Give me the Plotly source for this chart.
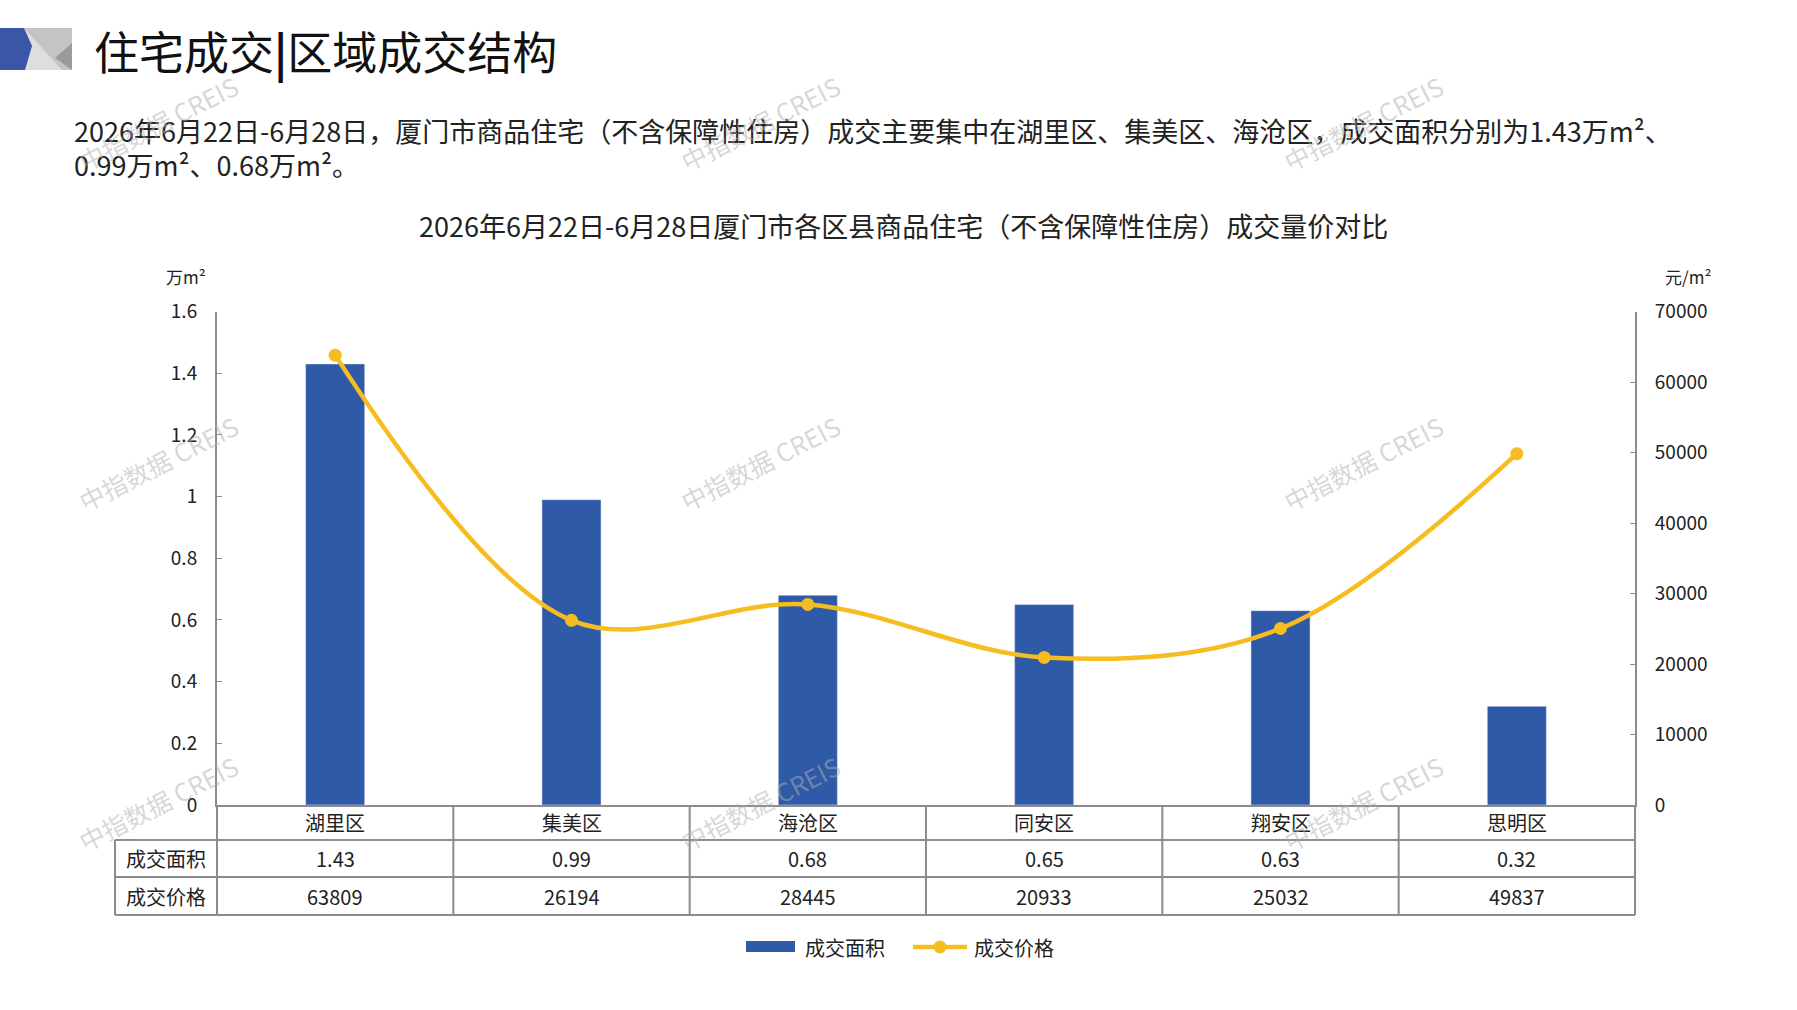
import plotly.graph_objects as go

# 数据
districts = ["湖里区", "集美区", "海沧区", "同安区", "翔安区", "思明区"]
area = [1.43, 0.99, 0.68, 0.65, 0.63, 0.32]          # 成交面积（万m²）
area_text = ["1.43", "0.99", "0.68", "0.65", "0.63", "0.32"]
price = [63809, 26194, 28445, 20933, 25032, 49837]   # 成交价格（元/m²）
left_ticks = [0, 0.2, 0.4, 0.6, 0.8, 1, 1.2, 1.4, 1.6]
right_ticks = [0, 10000, 20000, 30000, 40000, 50000, 60000, 70000]

W, H = 1797, 1010
FONT = "Noto Sans CJK SC"
BLUE = "#2F5AA8"
GOLD = "#F5BD1F"
GRID = "#8C8C8C"
TXT = "#222222"


def px(x):
    return x / W


def py(y):
    return 1 - y / H


x0, x1 = 217, 1635     # 图区左右（像素）
y_top, y_bot = 311.5, 805
idx = list(range(len(districts)))

fig = go.Figure()
fig.add_trace(go.Bar(
    x=idx, y=area, name="成交面积", marker_color=BLUE, width=0.25,
    yaxis="y", showlegend=False,
))
fig.add_trace(go.Scatter(
    x=idx, y=price, name="成交价格", yaxis="y2", mode="lines+markers",
    line=dict(color=GOLD, width=4.5, shape="spline", smoothing=1),
    marker=dict(color=GOLD, size=13), showlegend=False,
))

shapes = []
ann = []


def text(x, y, s, size, color=TXT, xanchor="center", **kw):
    ann.append(dict(x=x, y=y, xref=kw.pop("xref", "paper"), yref="paper", text=s,
                    showarrow=False, xanchor=xanchor, yanchor="middle",
                    font=dict(size=size, color=color), **kw))


# 左上角图标
shapes.append(dict(type="rect", xref="paper", yref="paper", x0=px(0), x1=px(72),
                   y0=py(70), y1=py(28), fillcolor="#C4C4C4", line_width=0, layer="above"))
shapes.append(dict(type="path", xref="paper", yref="paper", layer="above", line_width=0,
                   fillcolor="#DEDEDE",
                   path=f"M{px(24)},{py(28)} L{px(62)},{py(70)} L{px(20)},{py(70)} Z"))
shapes.append(dict(type="path", xref="paper", yref="paper", layer="above", line_width=0,
                   fillcolor="#9A9A9A",
                   path=f"M{px(72)},{py(43)} L{px(72)},{py(70)} L{px(55)},{py(58)} Z"))
shapes.append(dict(type="path", xref="paper", yref="paper", layer="above", line_width=0,
                   fillcolor="#3A56A6",
                   path=f"M{px(0)},{py(28)} L{px(24)},{py(28)} L{px(32)},{py(46)} "
                        f"L{px(25)},{py(70)} L{px(0)},{py(70)} Z"))

# 表格线
col_w = (x1 - x0) / len(districts)
for y in [840, 877, 915]:
    shapes.append(dict(type="line", xref="paper", yref="paper", x0=px(115), x1=px(x1),
                       y0=py(y), y1=py(y), line=dict(color=GRID, width=2)))
shapes.append(dict(type="line", xref="paper", yref="paper", x0=px(115), x1=px(115),
                   y0=py(840), y1=py(915), line=dict(color=GRID, width=2)))
for k in range(len(districts) + 1):
    xx = x0 + k * col_w
    shapes.append(dict(type="line", xref="paper", yref="paper", x0=px(xx), x1=px(xx),
                       y0=py(805), y1=py(915), line=dict(color=GRID, width=2)))

# 表格文字
for i, d in enumerate(districts):
    text(i, py(822), d, 20, xref="x")
    text(i, py(858.5), area_text[i], 20, xref="x")
    text(i, py(896), str(price[i]), 20, xref="x")
text(px(166), py(858.5), "成交面积", 20)
text(px(166), py(896), "成交价格", 20)

# 图例（手绘）
shapes.append(dict(type="rect", xref="paper", yref="paper", x0=px(746), x1=px(795),
                   y0=py(952), y1=py(941), fillcolor=BLUE, line_width=0))
text(px(803), py(947), "成交面积", 20, xanchor="left")
shapes.append(dict(type="line", xref="paper", yref="paper", x0=px(913), x1=px(967),
                   y0=py(947), y1=py(947), line=dict(color=GOLD, width=4.5)))
shapes.append(dict(type="circle", xref="paper", yref="paper", x0=px(933.5), x1=px(946.5),
                   y0=py(953.5), y1=py(940.5), fillcolor=GOLD, line_width=0))
text(px(972), py(947), "成交价格", 20, xanchor="left")

# 标题与说明文字
text(px(92), py(50), "住宅成交<b>|</b>区域成交结构", 45, color="#111", xanchor="left")
text(px(72), py(130),
     "2026年6月22日-6月28日，厦门市商品住宅（不含保障性住房）成交主要集中在湖里区、集美区、海沧区，成交面积分别为1.43万m²、",
     27, xanchor="left")
text(px(72), py(164), "0.99万m²、0.68万m²。", 27, xanchor="left")
text(px(903), py(226),
     "2026年6月22日-6月28日厦门市各区县商品住宅（不含保障性住房）成交量价对比", 27)
text(px(186), py(276), "万m²", 17)
text(px(1688), py(276), "元/m²", 17)

# 水印
for wx in [158, 760, 1363]:
    for wy in [123, 463, 803]:
        text(px(wx), py(wy), "中指数据 CREIS", 25, color="rgba(175,175,175,0.5)",
             textangle=-27)

fig.update_layout(
    width=W, height=H,
    margin=dict(l=0, r=0, t=0, b=0, pad=0, autoexpand=False),
    plot_bgcolor="white", paper_bgcolor="white",
    font=dict(family=FONT, color=TXT),
    showlegend=False,
    xaxis=dict(domain=[px(x0), px(x1)], range=[-0.5, len(districts) - 0.5],
               showticklabels=False, ticks="", showgrid=False, zeroline=False,
               showline=True, linecolor=GRID, linewidth=2),
    yaxis=dict(domain=[py(y_bot), py(y_top)], range=[0, 1.6], tickvals=left_ticks,
               showgrid=False, zeroline=False, showline=True, linecolor=GRID, linewidth=2,
               ticks="inside", ticklen=5, tickcolor=GRID, tickfont=dict(size=19),
               ticklabelstandoff=14),
    yaxis2=dict(overlaying="y", side="right", range=[0, 70000], tickvals=right_ticks,
                tickformat="d",
                showgrid=False, zeroline=False, showline=True, linecolor=GRID, linewidth=2,
                ticks="inside", ticklen=5, tickcolor=GRID, tickfont=dict(size=19),
                ticklabelstandoff=14),
    shapes=shapes,
    annotations=ann,
)

fig.write_html("out.html", config={"displayModeBar": False},
               post_script="document.body.style.margin='0';")
